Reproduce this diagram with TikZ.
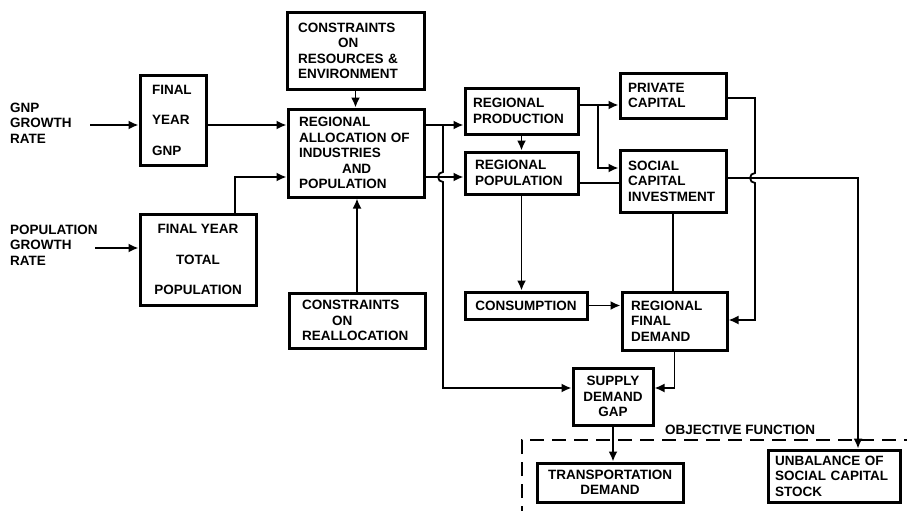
\documentclass[tikz,border=0pt]{standalone}
\usepackage{fontspec}
\setmainfont{Liberation Sans}
\usetikzlibrary{arrows.meta}

\tikzset{
  box/.style={draw, line width=3pt, inner xsep=0pt, inner ysep=0pt,
    font=\bfseries\fontsize{13.5}{15.5}\selectfont},
  txt/.style={inner sep=0pt, align=left, font=\bfseries\fontsize{13.5}{15.5}\selectfont},
  link/.style={line width=1.8pt},
  arr/.style={link, -{Latex[length=10pt,width=9pt]}},
}

\begin{document}
\begin{tikzpicture}[x=1pt, y=-1pt]
\useasboundingbox (0,0) rectangle (907,511);

% inputs
\node[txt, anchor=west] (gnprate) at (10,123) {GNP\\GROWTH\\RATE};
\node[txt, anchor=west] (poprate) at (10,245) {POPULATION\\GROWTH\\RATE};
\coordinate (gnpin) at (90,125);
\coordinate (popin) at (95,248);

% boxes
\node[box, align=left, minimum width=66pt, minimum height=90pt, text width=42pt] (fyg) at (173,120)
  {FINAL\\[15pt]YEAR\\[15pt]GNP};
\node[box, align=center, minimum width=116pt, minimum height=91pt] (fyp) at (198,259.5)
  {FINAL YEAR\\[15pt]TOTAL\\[15pt]POPULATION};
\node[box, align=left, minimum width=137pt, minimum height=76pt, text width=115pt] (cre) at (355.5,51)
  {CONSTRAINTS\\\hspace*{40pt}ON\\RESOURCES \&\\ENVIRONMENT};
\node[box, align=left, minimum width=136pt, minimum height=88pt, text width=114pt] (alloc) at (356,153)
  {REGIONAL\\ALLOCATION OF\\INDUSTRIES\\\hspace*{43pt}AND\\POPULATION};
\node[box, align=left, minimum width=136pt, minimum height=55pt, text width=110pt] (creal) at (357,320.5)
  {CONSTRAINTS\\\hspace*{30pt}ON\\REALLOCATION};
\node[box, align=left, minimum width=113pt, minimum height=46pt, text width=97pt] (prod) at (521.5,111)
  {REGIONAL\\PRODUCTION};
\node[box, align=left, minimum width=113pt, minimum height=42pt, text width=93pt] (pop) at (521.5,173)
  {REGIONAL\\POPULATION};
\node[box, align=left, minimum width=106pt, minimum height=45pt, text width=90pt] (priv) at (673,95.5)
  {PRIVATE\\CAPITAL};
\node[box, align=left, minimum width=106pt, minimum height=62pt, text width=90pt] (soc) at (673,181)
  {SOCIAL\\CAPITAL\\INVESTMENT};
\node[box, align=center, minimum width=122pt, minimum height=27pt] (cons) at (526,305.5)
  {CONSUMPTION};
\node[box, align=left, minimum width=105pt, minimum height=58pt, text width=87pt] (fdem) at (674.5,321)
  {REGIONAL\\FINAL\\DEMAND};
\node[box, align=center, minimum width=80pt, minimum height=57pt] (gap) at (613,396.5)
  {SUPPLY\\DEMAND\\GAP};
\node[box, align=center, minimum width=146pt, minimum height=39pt] (trans) at (610,482.5)
  {TRANSPORTATION\\DEMAND};
\node[box, align=left, minimum width=132pt, minimum height=52pt, text width=118pt] (unbal) at (834,476)
  {UNBALANCE OF\\SOCIAL CAPITAL\\STOCK};

% objective function
\draw[line width=2.8pt, dash pattern=on 14pt off 8pt] (522,520) -- (522,440) -- (915,440);
\node[txt] (objf) at (740,430) {OBJECTIVE FUNCTION};

% connectors
\draw[arr] (gnpin) -- (gnpin -| fyg.west);
\draw[arr] (popin) -- (popin -| fyp.west);
\draw[arr] (fyg.east |- 0,125) -- (alloc.west |- 0,125);
\draw[arr] ([xshift=37pt]fyp.north) |- (alloc.west |- 0,177);
\draw[arr] (cre.south) -- (cre.south |- alloc.north);
\draw[arr] (creal.north) -- (creal.north |- alloc.south);
\draw[arr] (alloc.east |- 0,125) -- (prod.west |- 0,125);
\draw[arr] (443,125) -- (443,172) arc (90:270:5pt) -- (443,388) -- (gap.west |- 0,388);
\draw[arr] (alloc.east |- 0,177) -- (pop.west |- 0,177);
\draw[arr] (prod.south) -- (prod.south |- pop.north);
\draw[arr] (pop.south) -- (pop.south |- cons.north);
\draw[arr] ([yshift=6pt]prod.east) -- (priv.west |- 0,105);
\draw[arr] (598,105) |- (soc.west |- 0,168);
\draw[link] (pop.east |- 0,183) -- (soc.west |- 0,183);
\draw[arr] (cons.east) -- (cons.east -| fdem.west);
\draw[line width=1.1pt] (soc.south) -- (soc.south |- fdem.north);
\draw[arr] (priv.east |- 0,98) -| (755,173) arc (90:270:5pt) |- (fdem.east |- 0,320);
\draw[arr] (soc.east |- 0,178) -| (unbal.north -| 858,0);
\draw[arr] (fdem.south) |- (gap.east |- 0,388);
\draw[arr] (gap.south) -- (gap.south |- trans.north);
\end{tikzpicture}
\end{document}
